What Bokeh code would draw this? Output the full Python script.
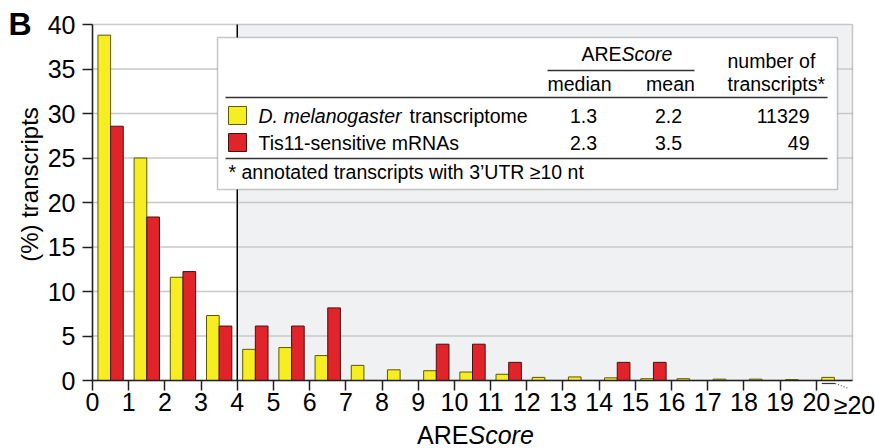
import math
from bokeh.plotting import figure
from bokeh.models import Range1d, FixedTicker, BoxAnnotation, Label
from bokeh.embed import file_html
from bokeh.resources import INLINE

# ---- data ----
bins = list(range(21))                      # AREScore bins 0..20 (20 = ">=20")
x_tick_labels = [str(b) for b in bins]
y_ticks = [0, 5, 10, 15, 20, 25, 30, 35, 40]
transcriptome = [38.8, 25.0, 11.6, 7.3, 3.5, 3.7, 2.8, 1.7, 1.2, 1.1, 0.95,
                 0.7, 0.35, 0.4, 0.3, 0.2, 0.2, 0.15, 0.15, 0.1, 0.35]
tis11 = [28.57, 18.37, 12.24, 6.12, 6.12, 6.12, 8.16, 0, 0, 4.08, 4.08,
         2.04, 0, 0, 2.04, 2.04, 0, 0, 0, 0, 0]
series_names = ["D. melanogaster transcriptome", "Tis11-sensitive mRNAs"]
medians = ["1.3", "2.3"]
means = ["2.2", "3.5"]
counts = ["11329", "49"]

FONT = "Liberation Sans"
YELLOW, YELLOW_EDGE = "#f7ee22", "#5e5800"
RED, RED_EDGE = "#e1232a", "#4a1010"

W, H = 875, 448
# pixel box of the data area (0..21 x 0..40) inside the page
L, R, T, B = 92, 852, 24, 380
XMAX, YMAX = 21, 40


def dx(px):
    return (px - L) * XMAX / (R - L)


def dy(py):
    return (B - py) * YMAX / (B - T)


# the frame covers the whole page; axes are pinned at x=0 / y=0
p = figure(width=W, height=H, x_range=Range1d(dx(0), dx(W)), y_range=Range1d(dy(H), dy(0)),
           output_backend="svg", toolbar_location=None,
           min_border_left=0, min_border_right=0, min_border_top=0, min_border_bottom=0)
p.title.visible = False
p.background_fill_color = "white"
p.border_fill_color = "white"
p.outline_line_color = None
p.grid.visible = False

# axes
p.xaxis.ticker = FixedTicker(ticks=bins)
p.xaxis.major_label_overrides = {b: s for b, s in zip(bins, x_tick_labels)}
p.yaxis.ticker = FixedTicker(ticks=y_ticks)
p.xaxis.fixed_location = 0
p.yaxis.fixed_location = 0
p.xaxis.bounds = (0, XMAX)
p.yaxis.bounds = (0, YMAX)
for ax in (p.xaxis[0], p.yaxis[0]):
    ax.major_label_text_font = FONT
    ax.major_label_text_font_size = "25px"
    ax.major_label_text_color = "black"
    ax.major_tick_in = 0
    ax.major_tick_out = 10
    ax.minor_tick_out = 0
    ax.minor_tick_in = 0
    ax.major_tick_line_width = 1.5
    ax.major_tick_line_color = "#222222"
    ax.axis_line_width = 1.5
    ax.axis_line_color = "#222222"
p.xaxis.major_label_standoff = 2
p.yaxis.major_label_standoff = 7

# shaded region from score 4 upward
p.add_layout(BoxAnnotation(left=4, right=XMAX, bottom=0, top=YMAX, fill_color="#f0f1f3",
                           fill_alpha=1, line_color=None, level="image"))
# horizontal grid lines
gy = y_ticks[1:-1]
p.segment(x0=[0] * len(gy), x1=[XMAX] * len(gy), y0=gy, y1=gy,
          line_color="#c8c8c8", line_width=1.5, level="underlay")
# black divider at score 4
p.segment(x0=[4], x1=[4], y0=[0], y1=[YMAX], line_color="black", line_width=1.5,
          level="underlay")
# data-area outline (top / right edges)
p.add_layout(BoxAnnotation(left=0, right=XMAX, bottom=0, top=YMAX, fill_color=None,
                           line_color="#555555", line_width=1.5, level="underlay"))

# bars
yx = [b + 0.325 for b, v in zip(bins, transcriptome) if v > 0]
yv = [v for v in transcriptome if v > 0]
rx = [b + 0.675 for b, v in zip(bins, tis11) if v > 0]
rv = [v for v in tis11 if v > 0]
p.vbar(x=yx, top=yv, width=0.35, fill_color=YELLOW, line_color=YELLOW_EDGE, line_width=1)
p.vbar(x=rx, top=rv, width=0.35, fill_color=RED, line_color=RED_EDGE, line_width=1)

# small bracket marking the open-ended last bin
last = bins[-1]
p.segment(x0=[last + 0.15], x1=[last + 0.52], y0=[dy(383)], y1=[dy(383)],
          line_color="#333333", line_width=1.2, level="overlay")
p.segment(x0=[last + 0.52], x1=[last + 0.9], y0=[dy(383)], y1=[dy(388)],
          line_color="#555555", line_width=1.2, line_dash="1 2", level="overlay")


def lab(text, px, py, align="left", size=19.5, style="normal", angle=0):
    # px, py: left/centre/right point on the text baseline (page pixels)
    shift = 0.35 * size
    if angle:
        px = px - shift
    else:
        py = py - shift
    p.add_layout(Label(x=dx(px), y=dy(py), text=text, text_align=align,
                       text_baseline="middle", text_font=FONT,
                       text_font_size=f"{size}px", text_font_style=style,
                       text_color="black", angle=angle))


# panel letter, axis titles, >=20 tick
lab("B", 8, 35, size=32, style="bold")
lab("(%) transcripts", 37, 184, align="center", size=24, angle=math.pi / 2)
lab("ARE", 468, 443, align="right", size=25)
lab("Score", 468, 443, align="left", size=25, style="italic")
lab("\u226520", 854, 413, align="center", size=25)

# table box
p.add_layout(BoxAnnotation(left=dx(217), right=dx(837), top=dy(37), bottom=dy(189),
                           fill_color="white", fill_alpha=1, line_color="#444444",
                           line_width=1.5, level="guide"))
p.segment(x0=[dx(547), dx(225), dx(225)], x1=[dx(694), dx(827), dx(827)],
          y0=[dy(70), dy(97), dy(158)], y1=[dy(70), dy(97), dy(158)],
          line_color="#333333", line_width=1.5, level="overlay")
p.quad(left=[dx(228), dx(228)], right=[dx(246), dx(246)],
       top=[dy(106), dy(133)], bottom=[dy(124), dy(151)],
       fill_color=[YELLOW, RED], line_color=[YELLOW_EDGE, RED_EDGE], line_width=1,
       level="overlay")

lab("ARE", 621, 60, align="right")
lab("Score", 621, 60, align="left", style="italic")
lab("median", 579, 90, align="center")
lab("mean", 670, 90, align="center")
lab("number of", 727, 67)
lab("transcripts*", 727, 90)

row_y = [122, 149]
lab("D. melanogaster", 258, row_y[0], style="italic")
lab("transcriptome", 409, row_y[0])
lab(series_names[1], 258, row_y[1])
for i, yb in enumerate(row_y):
    lab(medians[i], 583, yb, align="center")
    lab(means[i], 668, yb, align="center")
    lab(counts[i], 809, yb, align="right")
lab("* annotated transcripts with 3\u2019UTR \u226510 nt", 228, 178)

open("out.html", "w").write(file_html(p, INLINE))
